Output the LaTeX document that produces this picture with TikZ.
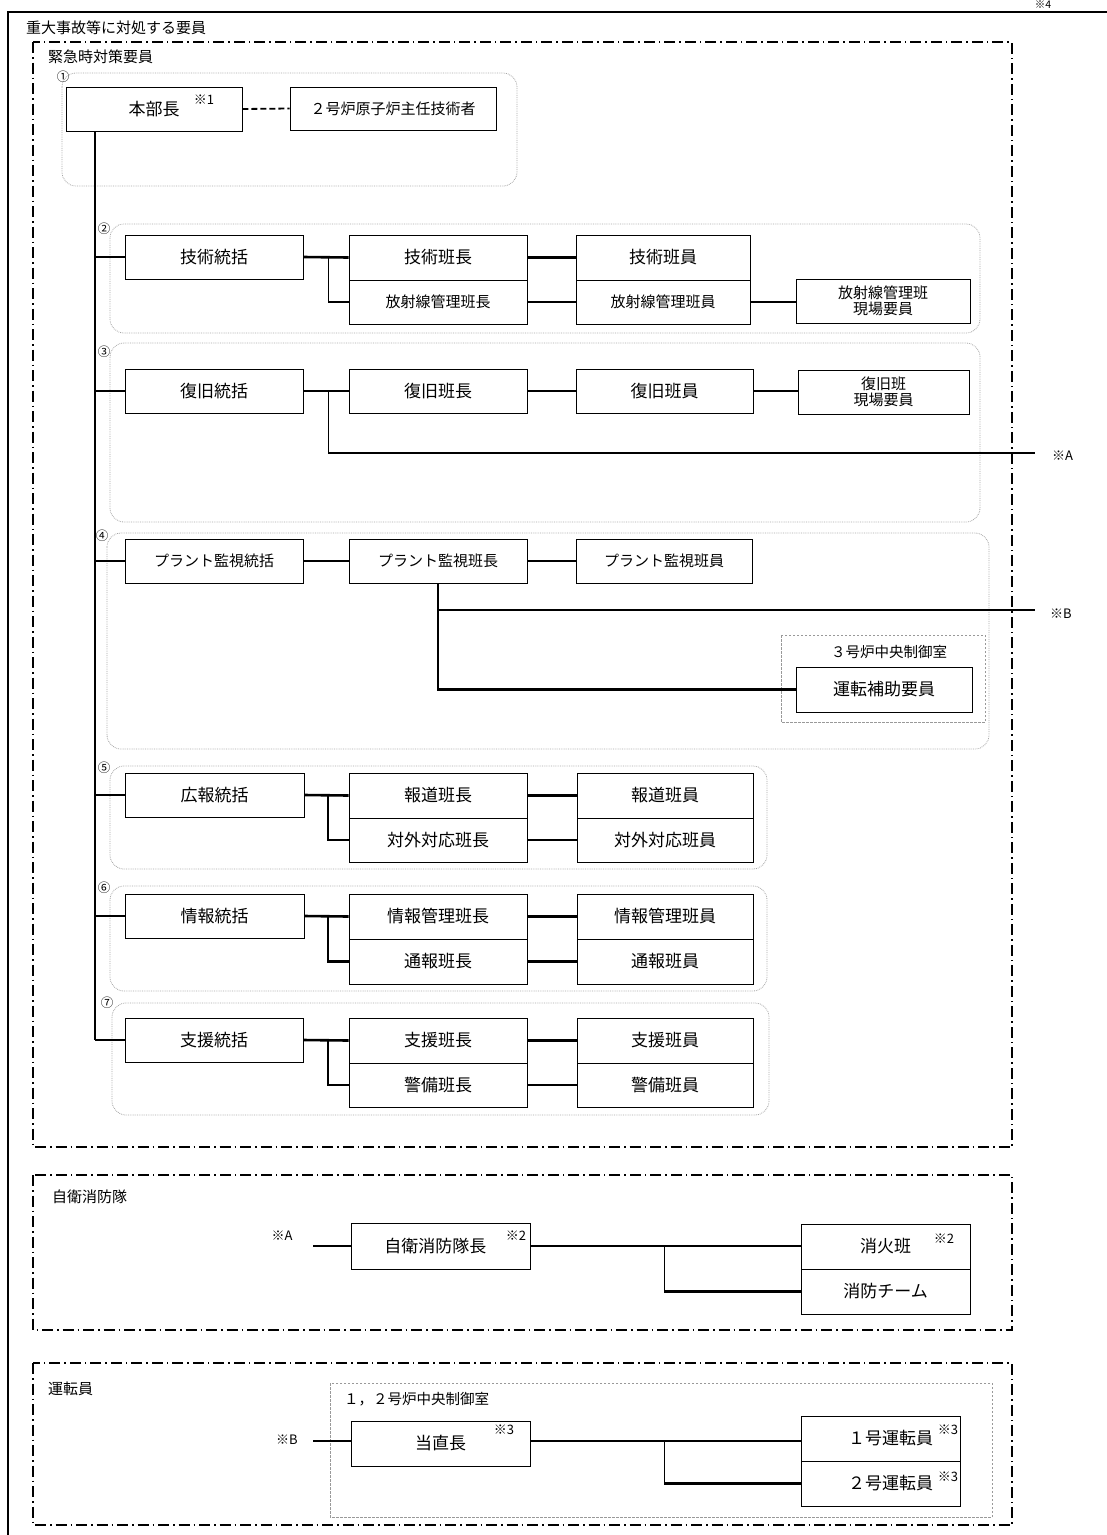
\documentclass[tikz,border=0pt]{standalone}
\usepackage{fontspec}
\setmainfont{Noto Sans CJK JP}
\usetikzlibrary{calc,shadows}
\newcommand\mybox[7][box]{\node[#1, minimum width={(#5-#3)*1pt}, minimum height={(#6-#4)*1pt}] (#2) at ({(#3+#5)/2},{(#4+#6)/2}) {#7};}
\begin{document}
\begin{tikzpicture}[x=1pt,y=-1pt,
 box/.style={draw=black, line width=0.9pt, fill=white, inner sep=0pt, align=center,
   font=\fontsize{17}{19}\selectfont,
   drop shadow={shadow xshift=1.2pt, shadow yshift=-1.2pt, fill=gray!60, opacity=1}},
 sbox/.style={box, font=\fontsize{15}{16}\selectfont},
 conn/.style={line width=2.6pt},
 thinc/.style={line width=0.9pt},
 grp/.style={draw=gray!70, densely dotted, line width=0.8pt, rounded corners=14pt},
 grpsq/.style={draw=gray!80, dashed, dash pattern=on 2.5pt off 1.5pt, line width=0.8pt},
 frame/.style={line width=1.1pt, dash pattern=on 11pt off 4pt on 1.5pt off 4pt},
 lbl/.style={anchor=west, inner sep=0pt, font=\fontsize{15}{16}\selectfont},
 note/.style={inner sep=0pt, font=\fontsize{13}{14}\selectfont},
 num/.style={inner sep=0pt, font=\fontsize{12.5}{13}\selectfont}]
\useasboundingbox (0,0) rectangle (1107,1535);
% outer frame
\draw[line width=1.8pt] (8,1535) -- (8,12) -- (1107,12);
\node[note, anchor=north, font=\fontsize{10.5}{11}\selectfont] (n4) at (1043,0.6) {※4};
\node[lbl] (title) at (26,28) {重大事故等に対処する要員};
% dash-dot frames
\draw[frame] (33,42) rectangle (1012,1147);
\node[lbl] (l1) at (48,57) {緊急時対策要員};
\draw[frame] (33,1175) rectangle (1012,1330);
\node[lbl] (l2) at (52,1197) {自衛消防隊};
\draw[frame] (33,1363) rectangle (1012,1525);
\node[lbl] (l3) at (48,1389) {運転員};
% groups
\draw[grp] (62,73) rectangle (517,186);   \node[num] (g1n) at (63,77) {①};
\draw[grp] (110,224) rectangle (980,333); \node[num] (g2n) at (104,229) {②};
\draw[grp] (110,343) rectangle (980,522); \node[num] (g3n) at (104,352) {③};
\draw[grp] (107,533) rectangle (989,749); \node[num] (g4n) at (102,536) {④};
\draw[grp] (110,766) rectangle (767,869); \node[num] (g5n) at (104,768) {⑤};
\draw[grp] (110,886) rectangle (767,991); \node[num] (g6n) at (104,888) {⑥};
\draw[grp] (112,1003) rectangle (769,1115); \node[num] (g7n) at (107,1003) {⑦};
\draw[grpsq] (781,635) rectangle (985,722);
\node[inner sep=0pt, font=\fontsize{14.5}{15}\selectfont] (r3) at (889,652) {３号炉中央制御室};
\draw[grpsq] (330,1383) rectangle (992,1517);
\node[lbl, font=\fontsize{14.5}{15}\selectfont] (r12) at (344,1399) {１，２号炉中央制御室};

% section 1
\mybox{hq}{66}{87}{242}{131}{本部長}
\node[note] (hqn) at (204,100) {※1};
\mybox[sbox]{chief}{290}{87}{496}{130}{２号炉原子炉主任技術者}
\draw[line width=1.8pt, dash pattern=on 6pt off 3pt] (hq.east) -- (chief.west);
\coordinate (tr) at (95,131);

% section 2
\mybox{s2}{125}{235}{303}{279}{技術統括}
\mybox{a2}{349}{235}{527}{280}{技術班長}
\mybox[sbox]{b2}{349}{280}{527}{324}{放射線管理班長}
\mybox{c2}{576}{235}{750}{280}{技術班員}
\mybox[sbox]{d2}{576}{280}{750}{324}{放射線管理班員}
\mybox[sbox]{e2}{796}{279}{970}{323}{放射線管理班\\現場要員}
\draw[conn] (tr |- s2.west) -- (s2.west);
\draw[conn] (s2.east) -- (a2.west);
\coordinate (j2) at (328,257);
\draw[thinc] (j2) -- (j2 |- b2.west);
\draw[conn] (j2 |- b2.west) -- (b2.west);
\draw[conn] (a2.east) -- (c2.west);
\draw[conn] (b2.east) -- (d2.west);
\draw[conn] (d2.east) -- (d2.east -| e2.west);

% section 3
\mybox{s3}{125}{369}{303}{413}{復旧統括}
\mybox{a3}{349}{369}{527}{413}{復旧班長}
\mybox{c3}{576}{369}{753}{413}{復旧班員}
\mybox[sbox]{e3}{798}{370}{969}{414}{復旧班\\現場要員}
\draw[conn] (tr |- s3.west) -- (s3.west);
\draw[conn] (s3.east) -- (a3.west);
\draw[conn] (a3.east) -- (c3.west);
\draw[conn] (c3.east) -- (c3.east -| e3.west);
\coordinate (j3) at (328,391);
\coordinate (k3) at (328,453);
\coordinate (pA) at (1035,453);
\draw[thinc] (j3) -- (k3);
\draw[conn] (k3) -- (pA);
\node[note, anchor=west] (refA) at (1052,456) {※A};

% section 4
\mybox[sbox]{s4}{125}{539}{303}{583}{プラント監視統括}
\mybox[sbox]{a4}{349}{539}{527}{583}{プラント監視班長}
\mybox[sbox]{c4}{576}{539}{752}{583}{プラント監視班員}
\mybox{f4}{796}{667}{972}{712}{運転補助要員}
\draw[conn] (tr |- s4.west) -- (s4.west);
\draw[conn] (s4.east) -- (a4.west);
\draw[conn] (a4.east) -- (c4.west);
\draw[conn] (a4.south) |- (f4.west);
\coordinate (k4) at (438,610);
\coordinate (pB) at (1035,610);
\draw[conn] (k4) -- (pB);
\node[note, anchor=west] (refB) at (1050,614) {※B};

% section 5
\mybox{s5}{125}{773}{304}{817}{広報統括}
\mybox{a5}{349}{773}{527}{818}{報道班長}
\mybox{b5}{349}{818}{527}{862}{対外対応班長}
\mybox{c5}{577}{773}{753}{818}{報道班員}
\mybox{d5}{577}{818}{753}{862}{対外対応班員}
\draw[conn] (tr |- s5.west) -- (s5.west);
\draw[conn] (s5.east) -- (a5.west);
\coordinate (j5) at (328,795);
\draw[conn] (j5) |- (b5.west);
\draw[conn] (a5.east) -- (c5.west);
\draw[conn] (b5.east) -- (d5.west);

% section 6
\mybox{s6}{125}{894}{304}{938}{情報統括}
\mybox{a6}{349}{894}{527}{939}{情報管理班長}
\mybox{b6}{349}{939}{527}{984}{通報班長}
\mybox{c6}{577}{894}{753}{939}{情報管理班員}
\mybox{d6}{577}{939}{753}{984}{通報班員}
\draw[conn] (tr |- s6.west) -- (s6.west);
\draw[conn] (s6.east) -- (a6.west);
\coordinate (j6) at (328,916);
\draw[conn] (j6) |- (b6.west);
\draw[conn] (a6.east) -- (c6.west);
\draw[conn] (b6.east) -- (d6.west);

% section 7
\mybox{s7}{125}{1018}{303}{1062}{支援統括}
\mybox{a7}{349}{1018}{527}{1063}{支援班長}
\mybox{b7}{349}{1063}{527}{1107}{警備班長}
\mybox{c7}{577}{1018}{753}{1063}{支援班員}
\mybox{d7}{577}{1063}{753}{1107}{警備班員}
\draw[conn] (tr |- s7.west) -- (s7.west);
\draw[conn] (s7.east) -- (a7.west);
\coordinate (j7) at (328,1040);
\draw[conn] (j7) |- (b7.west);
\draw[conn] (a7.east) -- (c7.west);
\draw[conn] (b7.east) -- (d7.west);

% trunk
\draw[conn] (tr) -- (tr |- s7.west);

% fire brigade
\node[note] (refA2) at (282,1236) {※A};
\mybox{f1}{351}{1223}{530}{1269}{自衛消防隊長\hspace{0.6em}}
\node[note] (f1n) at (516,1236) {※2};
\mybox{f2}{801}{1224}{970}{1269}{消火班}
\node[note] (f2n) at (944,1239) {※2};
\mybox{f3}{801}{1269}{970}{1314}{消防チーム}
\coordinate (fa) at (313,1246);
\draw[conn] (fa) -- (fa -| f1.west);
\draw[conn] (f1.east) -- (f1.east -| f2.west);
\coordinate (jf) at (664,1246);
\draw[thinc] (jf) -- (jf |- f3.west);
\draw[conn] (jf |- f3.west) -- (f3.west);

% operators
\node[note] (refB2) at (287,1440) {※B};
\mybox{h1}{351}{1421}{530}{1466}{当直長}
\node[note] (h1n) at (504,1430) {※3};
\mybox{h2}{801}{1416}{960}{1461}{\hspace{1.2em}１号運転員}
\node[note] (h2n) at (948,1430) {※3};
\mybox{h3}{801}{1461}{960}{1506}{\hspace{1.2em}２号運転員}
\node[note] (h3n) at (948,1477) {※3};
\coordinate (ha) at (313,1441);
\draw[conn] (ha) -- (ha -| h1.west);
\coordinate (hb) at (530,1441);
\draw[conn] (hb) -- (hb -| h2.west);
\coordinate (jh) at (664,1441);
\draw[thinc] (jh) -- (jh |- h3.west);
\draw[conn] (jh |- h3.west) -- (h3.west);
\end{tikzpicture}
\end{document}
